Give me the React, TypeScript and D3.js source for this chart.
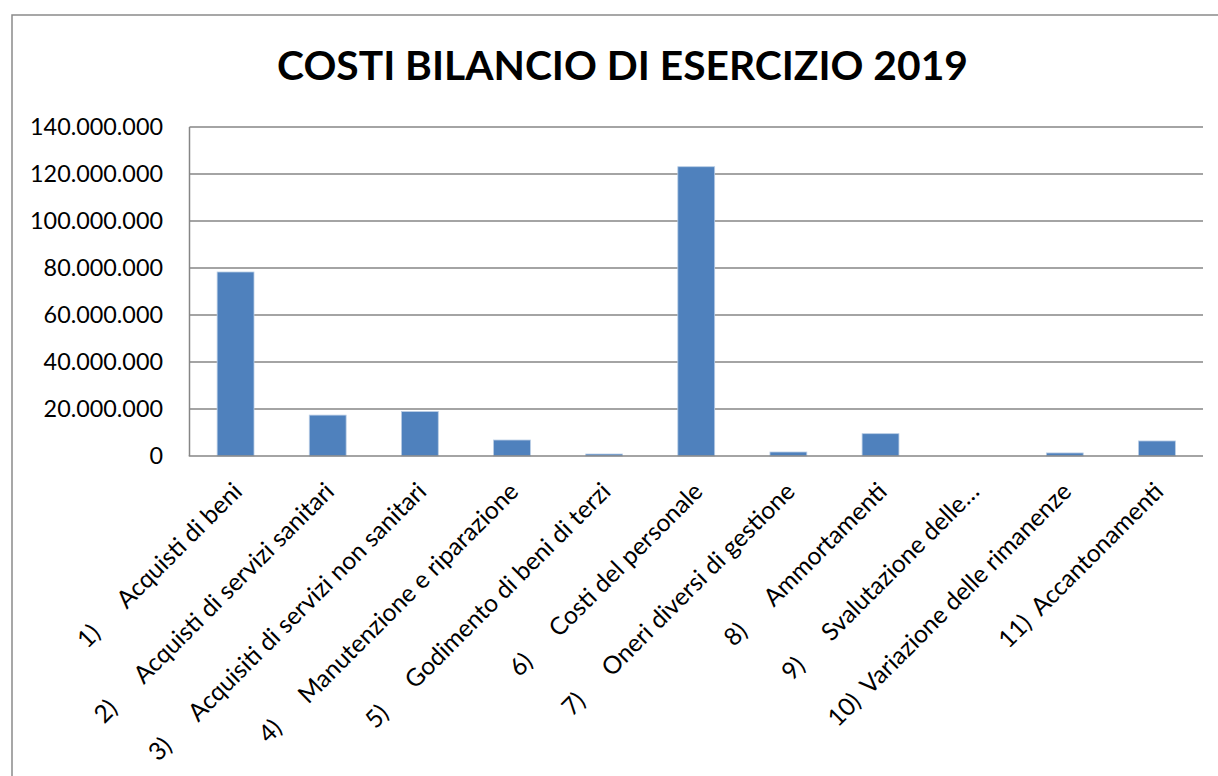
import React, { useEffect, useRef } from "react";
import * as d3 from "d3";

const TITLE = "COSTI BILANCIO DI ESERCIZIO 2019";

const categoryNumbers = ["1)", "2)", "3)", "4)", "5)", "6)", "7)", "8)", "9)", "10)", "11)"];

const categoryNames = [
  "Acquisti di beni",
  "Acquisti di servizi sanitari",
  "Acquisiti di servizi non sanitari",
  "Manutenzione e riparazione",
  "Godimento di beni di terzi",
  "Costi del personale",
  "Oneri diversi di gestione",
  "Ammortamenti",
  "Svalutazione delle…",
  "Variazione delle rimanenze",
  "Accantonamenti",
];

const costValues = [
  78300000, 17400000, 18900000, 6800000, 850000, 123100000, 1700000, 9500000, 0, 1300000,
  6400000,
];

const yTickValues = [0, 20000000, 40000000, 60000000, 80000000, 100000000, 120000000, 140000000];

const W = 1218;
const H = 776;
const PLOT = { left: 189.5, right: 1203, top: 127, bottom: 456 };
const FONT = "Lato, 'Open Sans', sans-serif";

const itFormat = d3.formatLocale({
  decimal: ",",
  thousands: ".",
  grouping: [3],
  currency: ["", "€"],
}).format(",.0f");

export default function App() {
  const ref = useRef<SVGSVGElement>(null);

  useEffect(() => {
    const draw = () => {
      const svg = d3.select(ref.current as SVGSVGElement);
      svg.selectAll("*").remove();

      // font size calibration (match reference text widths)
      const probe = svg
        .append("text")
        .attr("font-family", FONT)
        .attr("font-size", 100)
        .text("140.000.000");
      const probeW = (probe.node() as SVGTextElement).getComputedTextLength();
      probe.remove();
      const tickSize = (100 * 133) / probeW;
      const catSize = tickSize * 1.05;

      const tprobe = svg
        .append("text")
        .attr("font-family", FONT)
        .attr("font-weight", 700)
        .attr("font-size", 100)
        .text(TITLE);
      const tW = (tprobe.node() as SVGTextElement).getComputedTextLength();
      tprobe.remove();
      const titleSize = (100 * 691) / tW;

      svg.append("rect").attr("x", 0).attr("y", 0).attr("width", W).attr("height", H).attr("fill", "#fff");

      // outer chart frame
      svg
        .append("rect")
        .attr("x", 12)
        .attr("y", 15)
        .attr("width", W + 20)
        .attr("height", H + 20)
        .attr("fill", "none")
        .attr("stroke", "#8a8a8a")
        .attr("stroke-width", 1.5);

      // title
      svg
        .append("text")
        .attr("x", 622.5)
        .attr("y", 80)
        .attr("text-anchor", "middle")
        .attr("font-family", FONT)
        .attr("font-weight", 700)
        .attr("font-size", titleSize)
        .attr("fill", "#000")
        .text(TITLE);

      const x = d3
        .scaleBand<number>()
        .domain(d3.range(categoryNames.length))
        .range([PLOT.left, PLOT.right])
        .paddingInner(0.6)
        .paddingOuter(0.3);

      const y = d3.scaleLinear().domain([0, 140000000]).range([PLOT.bottom, PLOT.top]);

      // gridlines
      svg
        .append("g")
        .selectAll("line")
        .data(yTickValues.filter((v) => v > 0))
        .join("line")
        .attr("x1", PLOT.left)
        .attr("x2", PLOT.right)
        .attr("y1", (d) => y(d))
        .attr("y2", (d) => y(d))
        .attr("stroke", "#868686")
        .attr("stroke-width", 1.5);

      // y tick labels
      svg
        .append("g")
        .selectAll("text")
        .data(yTickValues)
        .join("text")
        .attr("x", 163)
        .attr("y", (d) => y(d))
        .attr("dy", "0.36em")
        .attr("text-anchor", "end")
        .attr("font-family", FONT)
        .attr("font-size", tickSize)
        .attr("fill", "#000")
        .text((d) => itFormat(d));

      // bars
      svg
        .append("g")
        .selectAll("rect")
        .data(costValues)
        .join("rect")
        .attr("x", (_, i) => x(i) as number)
        .attr("width", x.bandwidth())
        .attr("y", (d) => y(d))
        .attr("height", (d) => y(0) - y(d))
        .attr("fill", "#4F81BD")
        .attr("stroke", "#b9cde5")
        .attr("stroke-width", (d) => (d > 0 ? 0.8 : 0));

      // axes lines
      svg
        .append("line")
        .attr("x1", PLOT.left)
        .attr("x2", PLOT.left)
        .attr("y1", PLOT.top)
        .attr("y2", PLOT.bottom)
        .attr("stroke", "#868686")
        .attr("stroke-width", 1.5);
      svg
        .append("line")
        .attr("x1", PLOT.left - 0.75)
        .attr("x2", PLOT.right)
        .attr("y1", PLOT.bottom)
        .attr("y2", PLOT.bottom)
        .attr("stroke", "#868686")
        .attr("stroke-width", 1.6);

      // category labels, rotated -45
      const labels = svg
        .append("g")
        .selectAll("g")
        .data(categoryNames)
        .join("g")
        .attr(
          "transform",
          (_, i) => `translate(${(x(i) as number) + x.bandwidth() / 2 + 8},${493}) rotate(-45)`
        );

      labels.each(function (name, i) {
        const g = d3.select(this);
        const t = g
          .append("text")
          .attr("x", 0)
          .attr("y", 0)
          .attr("text-anchor", "end")
          .attr("font-family", FONT)
          .attr("font-size", catSize)
          .attr("fill", "#000")
          .text(name);
        const L = (t.node() as SVGTextElement).getComputedTextLength();
        const num = categoryNumbers[i];
        const gap = num.length > 2 ? 46 : 56;
        g.append("text")
          .attr("x", -(L + gap))
          .attr("y", 0)
          .attr("text-anchor", "start")
          .attr("font-family", FONT)
          .attr("font-size", catSize)
          .attr("fill", "#000")
          .text(num);
      });
    };

    draw();
    if ((document as any).fonts && (document as any).fonts.ready) {
      (document as any).fonts.ready.then(draw);
    }
  }, []);

  return (
    <svg
      ref={ref}
      width={W}
      height={H}
      style={{ position: "absolute", left: 0, top: 0, display: "block" }}
    />
  );
}
